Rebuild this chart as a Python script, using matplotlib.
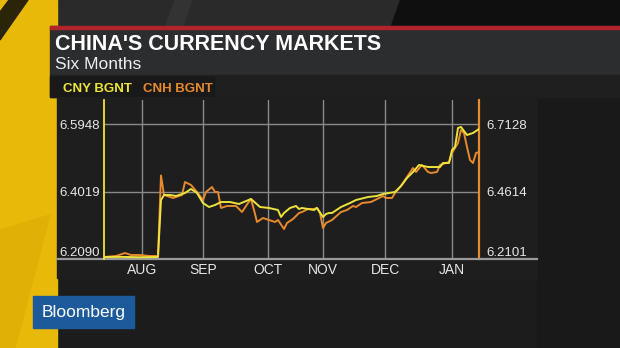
import matplotlib
matplotlib.use("Agg")
import matplotlib.pyplot as plt
from matplotlib.patches import Polygon, Rectangle

plt.rcParams['font.family'] = ['Liberation Sans', 'DejaVu Sans']

# trading-day index (session number from mid July 2015) and fixing values
cny_day = [0, 6, 12, 18, 19, 20, 22, 24, 25, 27, 29, 31, 33, 35, 37, 39, 42, 45,
           49, 52, 55, 58, 59, 60, 62, 64, 65, 66, 68, 70, 71, 73, 74, 75, 76, 79,
           82, 84, 88, 91, 93, 95, 97, 99, 101, 103, 105, 108, 112, 113, 115, 116,
           117, 118, 119, 121, 123, 125]
cny_rate = [6.2147, 6.2150, 6.2140, 6.2147, 6.3776, 6.3919, 6.3919, 6.3891, 6.3919,
            6.3976, 6.4091, 6.3976, 6.3690, 6.3576, 6.3633, 6.3719, 6.3719, 6.3662,
            6.3805, 6.3576, 6.3548, 6.3490, 6.3290, 6.3405, 6.3548, 6.3605, 6.3519,
            6.3548, 6.3519, 6.3490, 6.3548, 6.3290, 6.3376, 6.3405, 6.3405, 6.3576,
            6.3690, 6.3776, 6.3862, 6.3891, 6.3948, 6.3976, 6.4005, 6.4176, 6.4405,
            6.4576, 6.4777, 6.4719, 6.4719, 6.4834, 6.4834, 6.5205, 6.5291, 6.5834,
            6.5863, 6.5634, 6.5691, 6.5805]

cnh_day = [0, 4, 7, 9, 12, 15, 18, 19, 20, 23, 26, 27, 29, 31, 33, 34, 36, 37, 38,
           39, 41, 44, 46, 48, 49, 50, 51, 53, 55, 57, 58, 60, 61, 63, 65, 66, 68,
           70, 71, 72, 73, 74, 76, 79, 81, 83, 84, 86, 89, 91, 93, 94, 96, 97, 99,
           101, 103, 104, 106, 108, 109, 111, 112, 114, 115, 116, 118, 119, 120,
           121, 122, 123, 124, 125]
cnh_rate = [6.2175, 6.2213, 6.2324, 6.2250, 6.2250, 6.2213, 6.2213, 6.5211, 6.4484,
            6.4373, 6.4484, 6.4968, 6.4857, 6.4596, 6.4298, 6.4596, 6.4782, 6.4596,
            6.4596, 6.4000, 6.4075, 6.4075, 6.3851, 6.4186, 6.4335, 6.3926, 6.3479,
            6.3628, 6.3553, 6.3479, 6.3553, 6.3218, 6.3442, 6.3591, 6.3814, 6.3851,
            6.3963, 6.3963, 6.4000, 6.3814, 6.3255, 6.3442, 6.3553, 6.3851, 6.3926,
            6.4075, 6.4037, 6.4186, 6.4224, 6.4335, 6.4447, 6.4373, 6.4373, 6.4559,
            6.4820, 6.5155, 6.5490, 6.5341, 6.5602, 6.5341, 6.5304, 6.5341, 6.5602,
            6.5676, 6.5713, 6.6048, 6.6421, 6.6905, 6.6793, 6.6272, 6.5788, 6.5676,
            6.6048, 6.6086]

month_pos = [12.7, 33, 54.7, 73, 93.7, 116]
month_labels = ['AUG', 'SEP', 'OCT', 'NOV', 'DEC', 'JAN']
cny_ticks = [6.2090, 6.4019, 6.5948]
cnh_ticks = [6.2101, 6.4614, 6.7128]

YELLOW = '#ede43b'
ORANGE = '#e8892c'
GRID = '#8a8a8a'
TXT = '#e6e6e6'

W, H = 620, 348
fig = plt.figure(figsize=(W / 100, H / 100), dpi=100, facecolor='#1c1c1c')

# background decoration in pixel coordinates
bg = fig.add_axes([0, 0, 1, 1])
bg.set_xlim(0, W)
bg.set_ylim(H, 0)
bg.axis('off')
bg.add_patch(Polygon([(57, 0), (400, 0), (390, 28), (57, 28)], color='#2a2a2a'))
bg.add_patch(Polygon([(400, 0), (620, 0), (620, 28), (390, 28)], color='#0f0f0f'))
bg.add_patch(Polygon([(175, 0), (192, 0), (182, 28), (165, 28)], color='#333333'))
bg.add_patch(Polygon([(537, 97), (620, 97), (620, 348), (537, 348)], color='#191919'))
bg.add_patch(Rectangle((0, 0), 57, H, color='#e9b909'))
bg.add_patch(Polygon([(0, 230), (50, 215), (15, 348), (0, 348)], color='#e0b007'))
bg.add_patch(Polygon([(0, 12), (9, 0), (28, 0), (0, 40)], color='#2a2408'))
# title panel
bg.add_patch(Rectangle((50, 26), 570, 49, color='#2c2d2f'))
bg.add_patch(Rectangle((50, 26), 570, 2.5, color='#b3232c'))
bg.add_patch(Rectangle((50, 75), 570, 22, color='#1f1f1f'))
bg.add_patch(Rectangle((50, 77), 164, 20, color='#191919'))
# chart panel
bg.add_patch(Rectangle((57, 97), 480, 181, color='#1e1e1e'))
# logo
bg.add_patch(Rectangle((33, 296), 101, 32, color='#1d5a9b'))

bg.text(55, 50, "CHINA'S CURRENCY MARKETS", color='white', fontsize=15.5,
        fontweight='bold', va='baseline')
bg.text(55, 69, "Six Months", color='#eeeeee', fontsize=12.5, va='baseline')
bg.text(63, 92, "CNY BGNT", color=YELLOW, fontsize=9.5, fontweight='bold', va='baseline')
bg.text(143, 92, "CNH BGNT", color=ORANGE, fontsize=9.5, fontweight='bold', va='baseline')
bg.text(83.5, 312, "Bloomberg", color='white', fontsize=12.5, ha='center', va='center')

# chart axes
x0, x1, ytop, ybot = 104, 479, 100, 259
ax = fig.add_axes([x0 / W, (H - ybot) / H, (x1 - x0) / W, (ybot - ytop) / H])
ax2 = ax.twinx()
ax.set_zorder(ax2.get_zorder() + 1)
ax.patch.set_visible(False)
ax2.patch.set_visible(False)

ax2.plot(cnh_day, cnh_rate, color=ORANGE, lw=1.4)
ax.plot(cny_day, cny_rate, color=YELLOW, lw=1.4)

ax.set_xlim(0, 125)
ax.set_ylim(6.2090, 6.6634)
ax2.set_ylim(6.2101, 6.8022)

ax.set_xticks(month_pos)
ax.set_xticklabels(month_labels)
ax.set_yticks(cny_ticks)
ax.set_yticklabels(['%.4f' % v for v in cny_ticks])
ax2.set_yticks(cnh_ticks)
ax2.set_yticklabels(['%.4f' % v for v in cnh_ticks])
ax.get_yticklabels()[0].set_va('bottom')
ax2.get_yticklabels()[0].set_va('bottom')

ax.tick_params(axis='x', length=0, pad=3, labelsize=10, labelcolor=TXT)
ax.tick_params(axis='y', length=0, pad=3, labelsize=9.5, labelcolor=TXT)
ax2.tick_params(axis='y', length=0, pad=5, labelsize=9.5, labelcolor=TXT)

# grid drawn on the lower axes so the lines sit on top of it
ax2.xaxis.set_visible(True)
ax2.set_xticks(month_pos)
ax2.tick_params(axis='x', length=0, labelbottom=False)
ax2.grid(True, color=GRID, lw=1.0)
ax2.set_axisbelow(True)

for s in ['top', 'bottom', 'right']:
    ax.spines[s].set_visible(False)
for s in ['top', 'bottom', 'left']:
    ax2.spines[s].set_visible(False)
ax.spines['left'].set_color(YELLOW)
ax.spines['left'].set_linewidth(1.3)
ax2.spines['right'].set_color(ORANGE)
ax2.spines['right'].set_linewidth(1.6)

# baseline running past the plot on both sides
ax.axhline(6.2090, xmin=(57 - x0) / (x1 - x0), xmax=(537 - x0) / (x1 - x0),
           color='#9a9a9a', lw=1.6, clip_on=False, zorder=1)

fig.savefig('out.png', dpi=100, facecolor=fig.get_facecolor())
